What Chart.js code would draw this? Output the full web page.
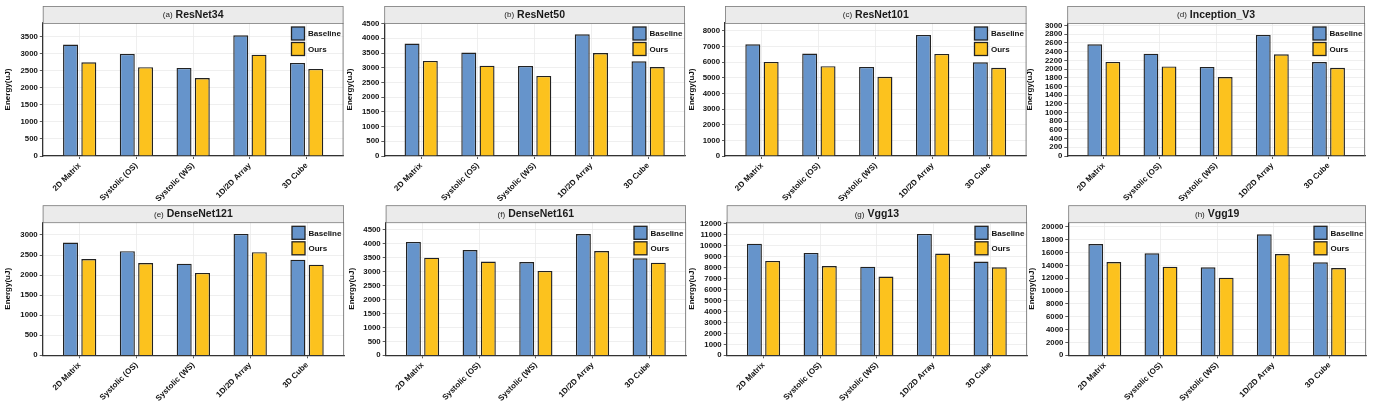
<!DOCTYPE html>
<html>
<head>
<meta charset="utf-8">
<script src="https://cdn.jsdelivr.net/npm/chart.js@4.4.0/dist/chart.umd.min.js"></script>
<style>
body { margin: 0; background: #fff; width: 1375px; height: 409px; overflow: hidden; position: relative; }
canvas { position: absolute; }
</style>
</head>
<body>
<script>
// categories on the x axis
const categories = ['2D Matrix', 'Systolic (OS)', 'Systolic (WS)', '1D/2D Array', '3D Cube'];
const seriesNames = ['Baseline', 'Ours'];

// energy values (uJ)
const resnet34Base  = [3275, 3000, 2590, 3550, 2735];
const resnet34Ours  = [2755, 2610, 2290, 2980, 2560];
const resnet50Base  = [3820, 3515, 3060, 4135, 3220];
const resnet50Ours  = [3230, 3070, 2720, 3500, 3025];
const resnet101Base = [7150, 6555, 5700, 7745, 6000];
const resnet101Ours = [6020, 5745, 5065, 6530, 5640];
const inceptionBase = [2570, 2355, 2050, 2785, 2160];
const inceptionOurs = [2165, 2060, 1815, 2340, 2030];
const dense121Base  = [2810, 2595, 2285, 3025, 2385];
const dense121Ours  = [2400, 2300, 2055, 2570, 2260];
const dense161Base  = [4070, 3780, 3350, 4355, 3485];
const dense161Ours  = [3505, 3365, 3030, 3745, 3325];
const vgg13Base     = [10200, 9350, 8100, 11085, 8560];
const vgg13Ours     = [8620, 8160, 7190, 9290, 8040];
const vgg19Base     = [17350, 15900, 13715, 18860, 14500];
const vgg19Ours     = [14545, 13820, 12100, 15790, 13610];

// panel tags, model names, y axis tops and tick steps
const tags   = ['(a)', '(b)', '(c)', '(d)', '(e)', '(f)', '(g)', '(h)'];
const models = ['ResNet34', 'ResNet50', 'ResNet101', 'Inception_V3', 'DenseNet121', 'DenseNet161', 'Vgg13', 'Vgg19'];
const baseSeries = [resnet34Base, resnet50Base, resnet101Base, inceptionBase, dense121Base, dense161Base, vgg13Base, vgg19Base];
const oursSeries = [resnet34Ours, resnet50Ours, resnet101Ours, inceptionOurs, dense121Ours, dense161Ours, vgg13Ours, vgg19Ours];
const yTops  = [3910, 4520, 8510, 3060, 3316, 4775, 12150, 20730];
const ySteps = [500, 500, 1000, 200, 500, 500, 1000, 2000];

// layout: y title centre, plot left, plot right for each panel
const geom = [
  [7.5, 42.3, 343], [350, 384.3, 685], [692, 725, 1026.5], [1030, 1067.3, 1365],
  [8, 42.7, 344], [352, 385.7, 686], [692, 726.7, 1027], [1032, 1068.3, 1366]
];
const rows = [
  { top: 0, plotTop: 23, plotBottom: 156, height: 202 },
  { top: 200, plotTop: 222.3, plotBottom: 355.3, height: 209 }
];

const FONT = '"Liberation Sans", Arial, sans-serif';
const colors = ['#6694CB', '#FCC21E'];

const framePlugin = {
  id: 'frame',
  afterDraw(chart, args, opts) {
    const ctx = chart.ctx;
    const a = chart.chartArea;
    ctx.save();
    // strip title
    const sh = 17;
    ctx.fillStyle = '#ebebeb';
    ctx.fillRect(a.left, a.top - sh, a.right - a.left, sh);
    ctx.strokeStyle = '#7a7a7a';
    ctx.lineWidth = 0.8;
    ctx.strokeRect(a.left + 0.4, a.top - sh + 0.4, a.right - a.left - 0.8, sh);
    ctx.font = '8px ' + FONT;
    const w1 = ctx.measureText(opts.tag).width;
    ctx.font = 'bold 10.5px ' + FONT;
    const w2 = ctx.measureText(opts.name).width;
    let x0 = (a.left + a.right) / 2 - (w1 + 3 + w2) / 2;
    const ty = a.top - sh / 2 + 0.5;
    ctx.textBaseline = 'middle';
    ctx.textAlign = 'left';
    ctx.fillStyle = '#1a1a1a';
    ctx.font = '8px ' + FONT;
    ctx.fillText(opts.tag, x0, ty);
    ctx.font = 'bold 10.5px ' + FONT;
    ctx.fillText(opts.name, x0 + w1 + 3, ty);
    // right edge of panel
    ctx.strokeStyle = '#666';
    ctx.beginPath();
    ctx.moveTo(a.right - 0.4, a.top);
    ctx.lineTo(a.right - 0.4, a.bottom);
    ctx.stroke();
    // legend
    chart.data.datasets.forEach((ds, i) => {
      const bx = a.right - 52, by = a.top + 4 + i * 15.5;
      ctx.fillStyle = ds.backgroundColor;
      ctx.fillRect(bx, by, 13, 13);
      ctx.strokeStyle = '#222';
      ctx.lineWidth = 1.3;
      ctx.strokeRect(bx, by, 13, 13);
      ctx.fillStyle = '#111';
      ctx.font = 'bold 8px ' + FONT;
      ctx.fillText(ds.label, bx + 16.5, by + 7);
    });
    ctx.restore();
  }
};

models.forEach((name, k) => {
  const row = rows[Math.floor(k / 4)];
  const [titleC, plotLeft, plotRight] = geom[k];
  const left = titleC - 5;
  const width = Math.ceil(plotRight + 2 - left);
  const cv = document.createElement('canvas');
  cv.width = width;
  cv.height = row.height;
  cv.style.left = left + 'px';
  cv.style.top = row.top + 'px';
  document.body.appendChild(cv);

  const series = [baseSeries[k], oursSeries[k]];
  new Chart(cv, {
    type: 'bar',
    data: {
      datasets: series.map((vals, s) => ({
        label: seriesNames[s],
        data: vals.map((v, i) => ({ x: i, y: v })),
        backgroundColor: colors[s],
        borderColor: '#222',
        borderWidth: 1.4,
        categoryPercentage: 0.644,
        barPercentage: 0.82
      }))
    },
    options: {
      responsive: false,
      animation: false,
      devicePixelRatio: 1,
      layout: { padding: { top: row.plotTop - row.top, right: left + width - plotRight, left: 0, bottom: 0 } },
      plugins: {
        legend: { display: false },
        tooltip: { enabled: false },
        frame: { tag: tags[k], name: name }
      },
      scales: {
        x: {
          type: 'linear',
          min: -0.65,
          max: 4.65,
          offset: false,
          afterFit: sc => { sc.height = row.height - (row.plotBottom - row.top); },
          border: { color: '#333', width: 1.3 },
          grid: { offset: false, color: '#ebebeb', lineWidth: 0.8, tickColor: '#333', tickLength: 3 },
          ticks: {
            stepSize: 1,
            includeBounds: false,
            autoSkip: false,
            maxRotation: 45,
            minRotation: 45,
            padding: 2,
            color: '#111',
            font: { family: FONT, size: 8, weight: 'bold' },
            callback: v => categories[v] ?? ''
          }
        },
        y: {
          min: 0,
          max: yTops[k],
          afterFit: sc => { sc.width = plotLeft - left; },
          afterBuildTicks: sc => {
            const t = [];
            for (let v = 0; v < yTops[k]; v += ySteps[k]) t.push({ value: v });
            sc.ticks = t;
          },
          border: { color: '#333', width: 1.3 },
          grid: { color: '#ebebeb', lineWidth: 0.8, tickColor: '#333', tickLength: 3 },
          title: {
            display: true,
            text: 'Energy(uJ)',
            padding: 0,
            color: '#111',
            font: { family: FONT, size: 8, weight: 'bold' }
          },
          ticks: {
            autoSkip: false,
            padding: 2,
            color: '#111',
            font: { family: FONT, size: 7.8, weight: 'bold' },
            callback: v => String(v)
          }
        }
      }
    },
    plugins: [framePlugin]
  });
});
</script>
</body>
</html>
